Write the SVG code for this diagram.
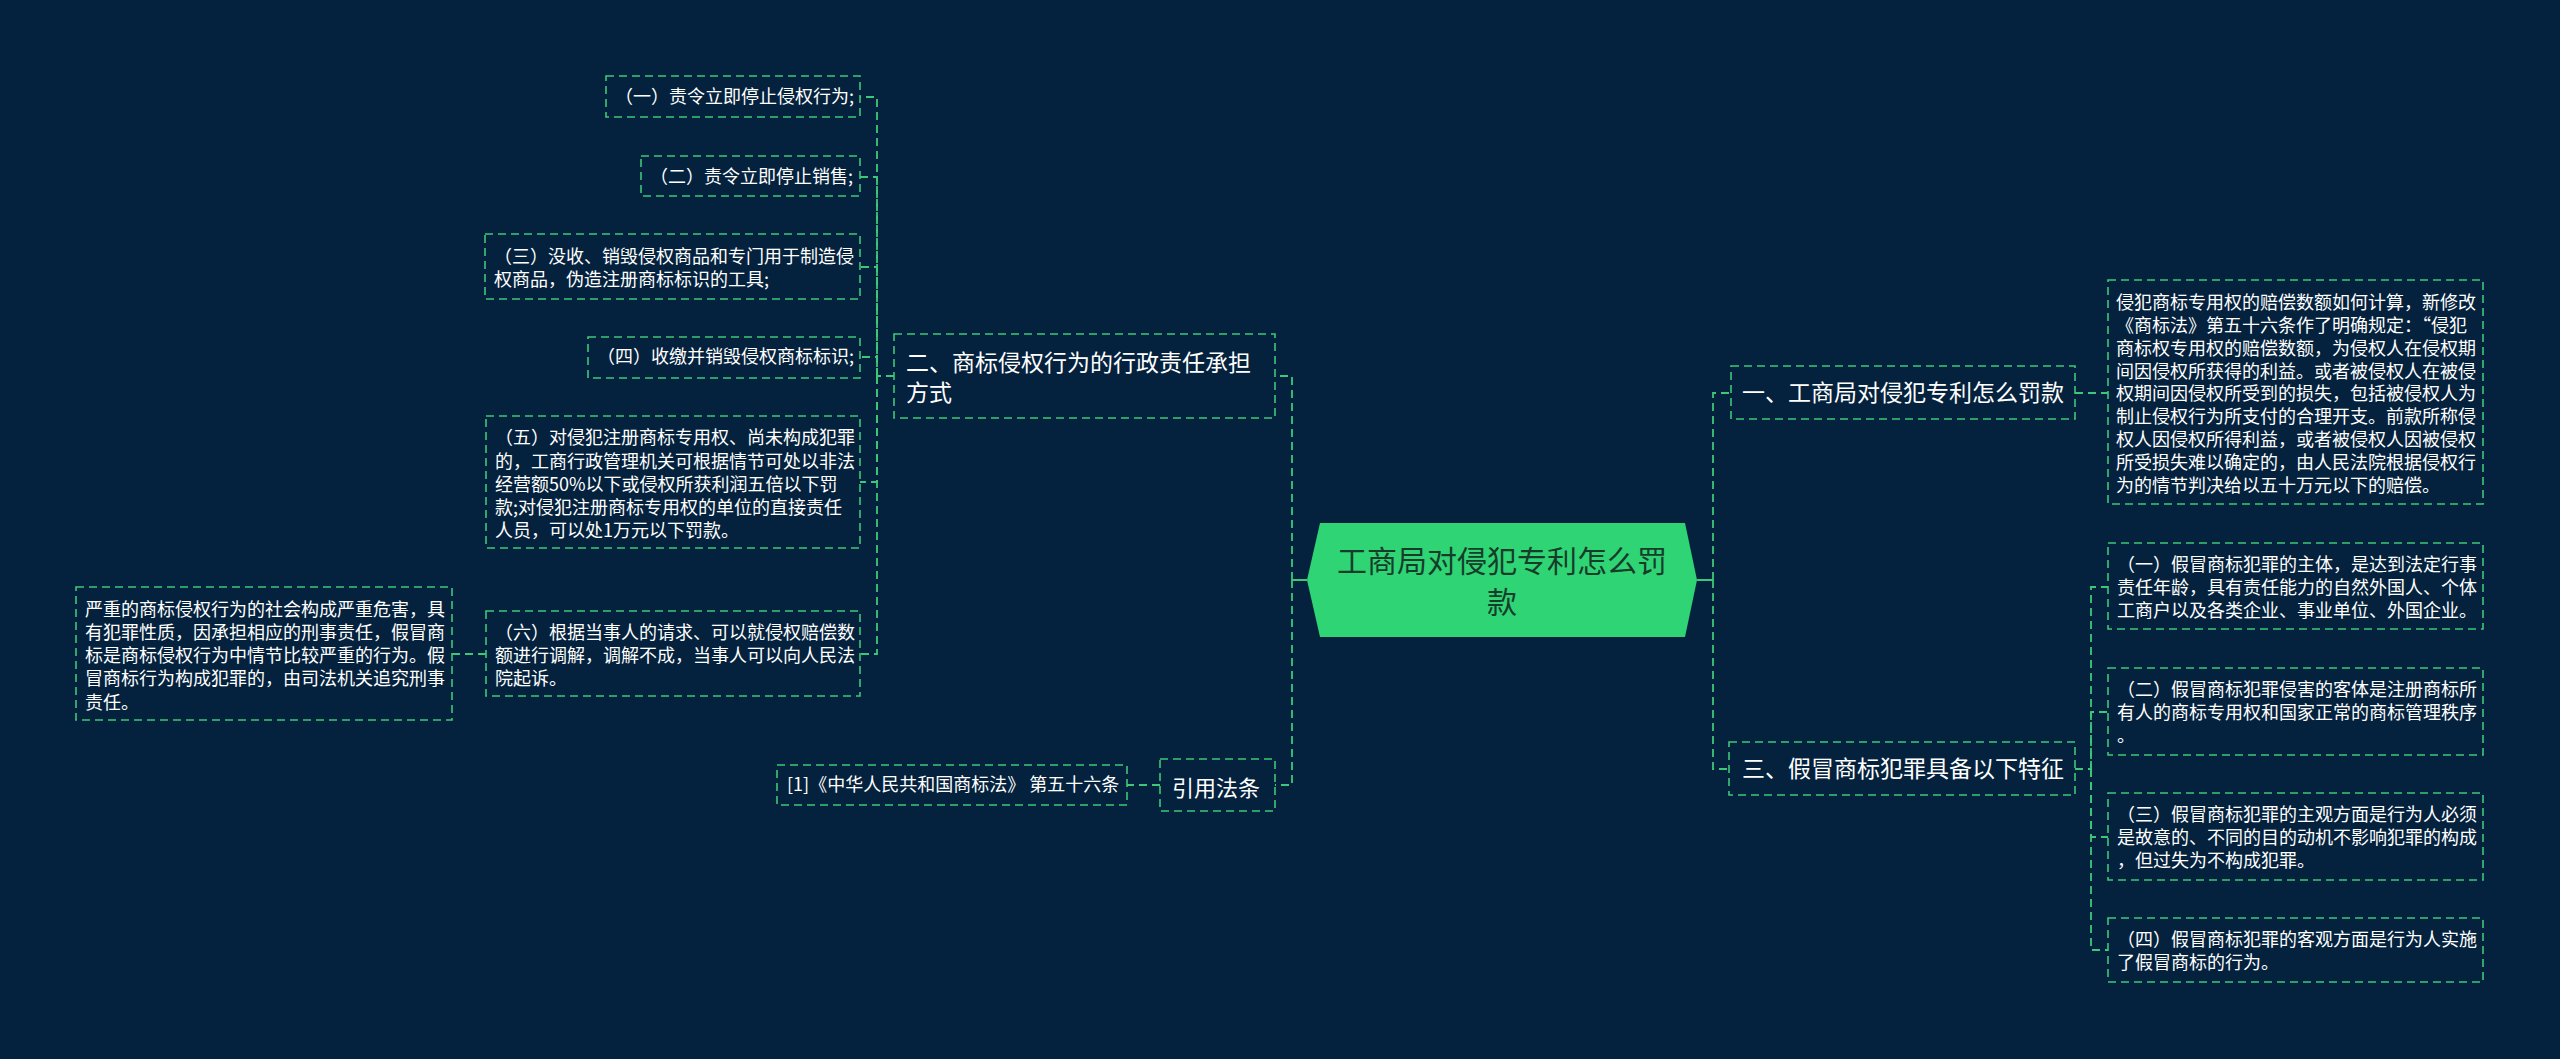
<svg xmlns="http://www.w3.org/2000/svg" width="2560" height="1059" viewBox="0 0 2560 1059">
<style>
  .bg{fill:#04223d}
  .box{fill:#04223d;stroke:#3cc878;stroke-width:1.6;stroke-dasharray:8 5}
  .t{font-family:"Noto Sans CJK SC","Microsoft YaHei",sans-serif;fill:#ffffff}
  .s{font-size:18px}
  .m{font-size:23px}
  .c{font-family:"Noto Sans CJK SC","Microsoft YaHei",sans-serif;font-size:30px;fill:#173d2a;text-anchor:middle}
  .ln{fill:none;stroke:#3cc878;stroke-width:1.8;stroke-dasharray:8 5}
  .sl{fill:none;stroke:#3cc878;stroke-width:2}
</style>
<rect class="bg" x="0" y="0" width="2560" height="1059"/>

<g id="connectors">
  <path class="sl" d="M1307,580 H1292"/>
  <path class="sl" d="M1697,580 H1713"/>
  <path class="ln" d="M1292,580 V376 H1275"/>
  <path class="ln" d="M1292,580 V785 H1275"/>
  <path class="ln" d="M1160,785 H1127"/>
  <path class="ln" d="M894,376 H877 V97 H860"/>
  <path class="ln" d="M877,376 V177 H860"/>
  <path class="ln" d="M877,376 V267 H860"/>
  <path class="ln" d="M877,376 V357 H860"/>
  <path class="ln" d="M877,376 V482 H860"/>
  <path class="ln" d="M877,376 V654 H860"/>
  <path class="ln" d="M486,654 H452"/>
  <path class="ln" d="M1713,580 V393 H1731"/>
  <path class="ln" d="M1713,580 V769 H1729"/>
  <path class="ln" d="M2075,393 H2108"/>
  <path class="ln" d="M2075,769 H2091 V587 H2108"/>
  <path class="ln" d="M2091,769 V712 H2108"/>
  <path class="ln" d="M2091,769 V837 H2108"/>
  <path class="ln" d="M2091,769 V950 H2108"/>
</g>

<g id="center">
  <polygon points="1320,523 1685,523 1697,580 1685,637 1320,637 1307,580" fill="#2fd475"/>
  <text class="c" x="1502" y="572">工商局对侵犯专利怎么罚</text>
  <text class="c" x="1502" y="613">款</text>
</g>

<g id="n-admin">
  <rect class="box" x="894" y="334" width="381" height="84"/>
  <text class="t m" x="906" y="371">二、商标侵权行为的行政责任承担</text>
  <text class="t m" x="906" y="401">方式</text>
</g>
<g id="n-a1">
  <rect class="box" x="606" y="76" width="254" height="41"/>
  <text class="t s" x="615" y="103">（一）责令立即停止侵权行为;</text>
</g>
<g id="n-a2">
  <rect class="box" x="641" y="156" width="219" height="40"/>
  <text class="t s" x="650" y="183">（二）责令立即停止销售;</text>
</g>
<g id="n-a3">
  <rect class="box" x="485" y="234" width="375" height="65"/>
  <text class="t s" x="494" y="263">（三）没收、销毁侵权商品和专门用于制造侵</text>
  <text class="t s" x="494" y="286">权商品，伪造注册商标标识的工具;</text>
</g>
<g id="n-a4">
  <rect class="box" x="588" y="337" width="272" height="41"/>
  <text class="t s" x="597" y="363">（四）收缴并销毁侵权商标标识;</text>
</g>
<g id="n-a5">
  <rect class="box" x="486" y="416" width="374" height="132"/>
  <text class="t s" x="495" y="444">（五）对侵犯注册商标专用权、尚未构成犯罪</text>
  <text class="t s" x="495" y="468">的，工商行政管理机关可根据情节可处以非法</text>
  <text class="t s" x="495" y="491">经营额50%以下或侵权所获利润五倍以下罚</text>
  <text class="t s" x="495" y="514">款;对侵犯注册商标专用权的单位的直接责任</text>
  <text class="t s" x="495" y="537">人员，可以处1万元以下罚款。</text>
</g>
<g id="n-a6">
  <rect class="box" x="486" y="611" width="374" height="85"/>
  <text class="t s" x="495" y="639">（六）根据当事人的请求、可以就侵权赔偿数</text>
  <text class="t s" x="495" y="662">额进行调解，调解不成，当事人可以向人民法</text>
  <text class="t s" x="495" y="685">院起诉。</text>
</g>
<g id="n-a6-1">
  <rect class="box" x="76" y="587" width="376" height="133"/>
  <text class="t s" x="85" y="616">严重的商标侵权行为的社会构成严重危害，具</text>
  <text class="t s" x="85" y="639">有犯罪性质，因承担相应的刑事责任，假冒商</text>
  <text class="t s" x="85" y="662">标是商标侵权行为中情节比较严重的行为。假</text>
  <text class="t s" x="85" y="685">冒商标行为构成犯罪的，由司法机关追究刑事</text>
  <text class="t s" x="85" y="709">责任。</text>
</g>
<g id="n-law">
  <rect class="box" x="1160" y="759" width="115" height="52"/>
  <text class="t" x="1172" y="796" font-size="22">引用法条</text>
</g>
<g id="n-law-1">
  <rect class="box" x="777" y="765" width="350" height="40"/>
  <text class="t s" x="787" y="791">[1]《中华人民共和国商标法》 第五十六条</text>
</g>

<g id="n-fine">
  <rect class="box" x="1731" y="366" width="344" height="53"/>
  <text class="t m" x="1742" y="401">一、工商局对侵犯专利怎么罚款</text>
</g>
<g id="n-fine-1">
  <rect class="box" x="2108" y="280" width="375" height="224"/>
  <text class="t s" x="2116" y="309">侵犯商标专用权的赔偿数额如何计算，新修改</text>
  <text class="t s" x="2116" y="332">《商标法》第五十六条作了明确规定：“侵犯</text>
  <text class="t s" x="2116" y="355">商标权专用权的赔偿数额，为侵权人在侵权期</text>
  <text class="t s" x="2116" y="378">间因侵权所获得的利益。或者被侵权人在被侵</text>
  <text class="t s" x="2116" y="400">权期间因侵权所受到的损失，包括被侵权人为</text>
  <text class="t s" x="2116" y="423">制止侵权行为所支付的合理开支。前款所称侵</text>
  <text class="t s" x="2116" y="446">权人因侵权所得利益，或者被侵权人因被侵权</text>
  <text class="t s" x="2116" y="469">所受损失难以确定的，由人民法院根据侵权行</text>
  <text class="t s" x="2116" y="492">为的情节判决给以五十万元以下的赔偿。</text>
</g>
<g id="n-crime">
  <rect class="box" x="1729" y="742" width="346" height="53"/>
  <text class="t m" x="1742" y="777">三、假冒商标犯罪具备以下特征</text>
</g>
<g id="n-c1">
  <rect class="box" x="2108" y="543" width="375" height="86"/>
  <text class="t s" x="2117" y="571">（一）假冒商标犯罪的主体，是达到法定行事</text>
  <text class="t s" x="2117" y="594">责任年龄，具有责任能力的自然外国人、个体</text>
  <text class="t s" x="2117" y="617">工商户以及各类企业、事业单位、外国企业。</text>
</g>
<g id="n-c2">
  <rect class="box" x="2108" y="668" width="375" height="87"/>
  <text class="t s" x="2117" y="696">（二）假冒商标犯罪侵害的客体是注册商标所</text>
  <text class="t s" x="2117" y="719">有人的商标专用权和国家正常的商标管理秩序</text>
  <text class="t s" x="2117" y="742">。</text>
</g>
<g id="n-c3">
  <rect class="box" x="2108" y="793" width="375" height="87"/>
  <text class="t s" x="2117" y="821">（三）假冒商标犯罪的主观方面是行为人必须</text>
  <text class="t s" x="2117" y="844">是故意的、不同的目的动机不影响犯罪的构成</text>
  <text class="t s" x="2117" y="867">，但过失为不构成犯罪。</text>
</g>
<g id="n-c4">
  <rect class="box" x="2108" y="918" width="375" height="64"/>
  <text class="t s" x="2117" y="946">（四）假冒商标犯罪的客观方面是行为人实施</text>
  <text class="t s" x="2117" y="969">了假冒商标的行为。</text>
</g>
</svg>
